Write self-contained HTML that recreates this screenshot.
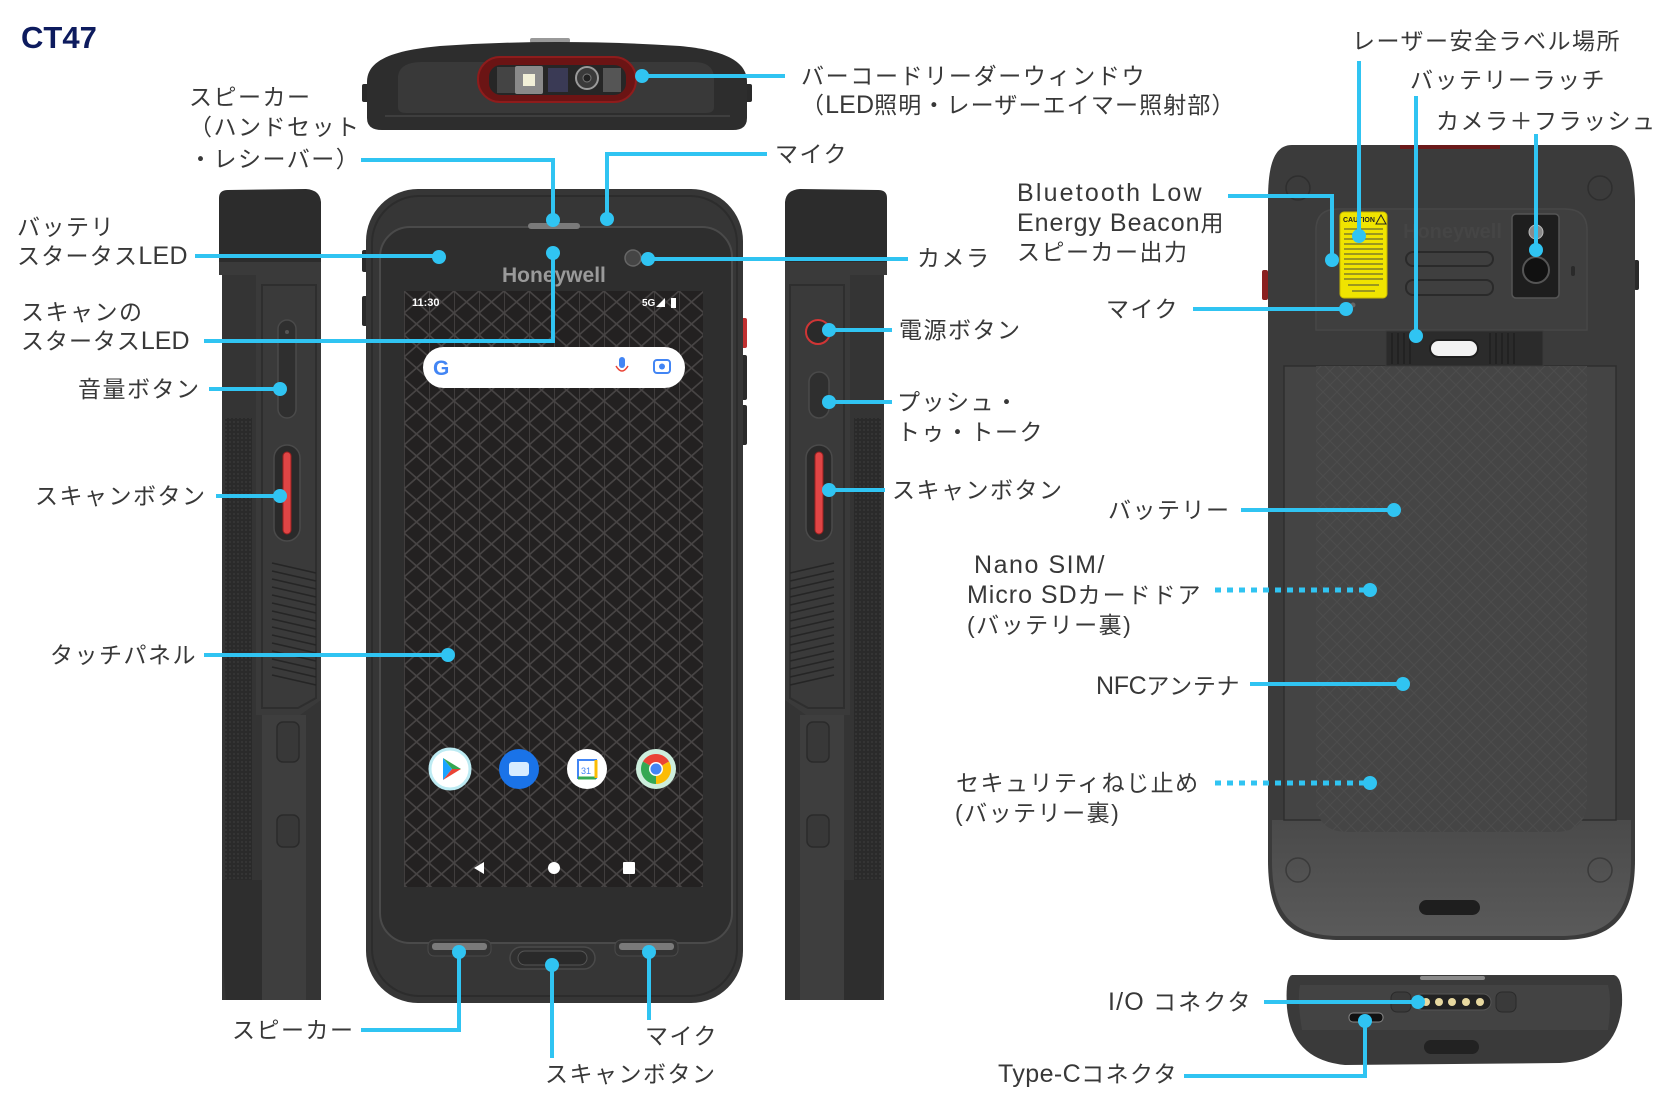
<!DOCTYPE html>
<html><head><meta charset="utf-8">
<style>
html,body{margin:0;padding:0;background:#fff;}
svg{display:block;}
text{font-family:"Liberation Sans","Noto Sans CJK JP",sans-serif;}
.t{font-size:23px;fill:#383838;letter-spacing:1.5px;dominant-baseline:central;}
.l{font-size:25px;letter-spacing:0.5px;}
</style></head><body>
<svg width="1667" height="1114" viewBox="0 0 1667 1114" xmlns="http://www.w3.org/2000/svg">
<defs>
<pattern id="tri" width="25" height="44" patternUnits="userSpaceOnUse" x="404" y="291">
<rect width="25" height="44" fill="#232121"/>
<path d="M0,0 L25,22 L0,44 M25,0 L0,22 L25,44 M0,0 V44" stroke="#474444" stroke-width="1.6" fill="none"/>
</pattern>
<pattern id="bat" width="14" height="14" patternUnits="userSpaceOnUse">
<rect width="14" height="14" fill="#454545"/>
<path d="M0,7 L7,0 L14,7 L7,14 Z" stroke="#4d4d4d" stroke-width="1" fill="none"/>
</pattern>
<pattern id="grip" width="4" height="4" patternUnits="userSpaceOnUse">
<rect width="4" height="4" fill="#2a2a2a"/>
<circle cx="2" cy="2" r="0.9" fill="#3a3a3a"/>
</pattern>
<linearGradient id="backlow" x1="0" y1="0" x2="0" y2="1">
<stop offset="0" stop-color="#4a4a4a"/><stop offset="1" stop-color="#5a5a5a"/>
</linearGradient>
<g id="side">
<rect x="222" y="268" width="99" height="732" fill="#343434"/>
<path d="M219,198 Q219,190 228,190 L306,189 Q320,190 321,202 V275 H219 Z" fill="#2c2c2c"/>
<rect x="219" y="262" width="102" height="13" fill="#3a3a3a"/>
<rect x="225" y="418" width="27" height="462" fill="url(#grip)"/>
<path d="M256,275 H321 V700 L300,715 H256 Z" fill="#3a3a3a"/>
<path d="M262,285 H316 V698 L298,708 H262 Z" fill="none" stroke="#2e2e2e" stroke-width="2"/>
<rect x="262" y="715" width="44" height="285" fill="#3e3e3e"/>
<rect x="277" y="722" width="22" height="40" rx="6" fill="#383838" stroke="#2a2a2a" stroke-width="1.5"/>
<rect x="277" y="815" width="22" height="32" rx="6" fill="#383838" stroke="#2a2a2a" stroke-width="1.5"/>
<path d="M222,880 H262 V1000 H226 Q222,960 222,900 Z" fill="#2e2e2e"/>
<g stroke="#252525" stroke-width="1.5">
<line x1="272" y1="563" x2="316" y2="573"/><line x1="272" y1="571" x2="316" y2="581"/>
<line x1="272" y1="579" x2="316" y2="589"/><line x1="272" y1="587" x2="316" y2="597"/>
<line x1="272" y1="595" x2="316" y2="605"/><line x1="272" y1="603" x2="316" y2="613"/>
<line x1="272" y1="611" x2="316" y2="621"/><line x1="272" y1="619" x2="316" y2="629"/>
<line x1="272" y1="627" x2="316" y2="637"/><line x1="272" y1="635" x2="316" y2="645"/>
<line x1="272" y1="643" x2="316" y2="653"/><line x1="272" y1="651" x2="316" y2="661"/>
<line x1="272" y1="659" x2="316" y2="669"/><line x1="272" y1="667" x2="316" y2="677"/>
<line x1="272" y1="675" x2="316" y2="685"/>
</g>
<rect x="274" y="445" width="26" height="96" rx="13" fill="#2a2a2a" stroke="#4a4a4a" stroke-width="1.5"/>
<rect x="283" y="452" width="8" height="82" rx="4" fill="#e04545" stroke="#9a2020" stroke-width="1"/>
</g>
</defs>

<!-- CT47 -->
<text x="21" y="48" font-size="31" font-weight="bold" fill="#0d1b5e" style="font-family:'Liberation Sans',sans-serif;">CT47</text>

<!-- TOP VIEW -->
<rect x="362" y="84" width="7" height="18" rx="2" fill="#2a2a2a"/>
<rect x="745" y="84" width="7" height="18" rx="2" fill="#2a2a2a"/>
<rect x="530" y="38" width="40" height="5" rx="2" fill="#999"/>
<path d="M367,82 C367,58 398,50 440,46 Q555,38 680,46 C722,50 747,60 747,82 V118 Q747,130 733,130 H382 Q367,130 367,118 Z" fill="#2d2d2d"/>
<path d="M398,76 Q400,62 422,62 H694 Q712,62 714,76 V107 Q714,113 706,113 H406 Q398,113 398,107 Z" fill="#393939"/>
<line x1="385" y1="116" x2="730" y2="116" stroke="#444" stroke-width="1.5"/>
<rect x="478" y="57" width="158" height="45" rx="22" fill="#6b1414" stroke="#8e1c1c" stroke-width="2"/>
<rect x="489" y="65" width="137" height="30" rx="12" fill="#262626"/>
<rect x="497" y="67" width="20" height="26" fill="#444"/>
<rect x="515" y="66" width="28" height="28" rx="2" fill="#8a8a8a"/>
<rect x="523" y="74" width="12" height="12" fill="#f2f0d8"/>
<rect x="548" y="68" width="20" height="24" fill="#3a3a55"/>
<circle cx="587" cy="78" r="11" fill="#3a3a3a" stroke="#9a9a9a" stroke-width="2"/>
<circle cx="587" cy="78" r="4" fill="#222" stroke="#777" stroke-width="1"/>
<rect x="603" y="68" width="18" height="24" fill="#555"/>

<!-- LEFT SIDE DEVICE -->
<use href="#side"/>
<rect x="278" y="320" width="18" height="98" rx="9" fill="#2f2f2f" stroke="#4a4a4a" stroke-width="1.5"/>
<circle cx="287" cy="332" r="2" fill="#555"/>

<!-- RIGHT SIDE DEVICE (mirrored) -->
<use href="#side" transform="matrix(-1,0,0,1,1106,0)"/>
<circle cx="818" cy="332" r="12" fill="#2a2a2a" stroke="#d03535" stroke-width="2"/>
<rect x="809" y="372" width="20" height="46" rx="10" fill="#2f2f2f" stroke="#4a4a4a" stroke-width="1.5"/>

<!-- FRONT DEVICE -->
<rect x="362" y="250" width="6" height="22" rx="2" fill="#2a2a2a"/>
<rect x="362" y="296" width="6" height="30" rx="2" fill="#2a2a2a"/>
<rect x="741" y="318" width="6" height="30" rx="2" fill="#c03030"/>
<rect x="741" y="355" width="6" height="45" rx="2" fill="#2a2a2a"/>
<rect x="741" y="405" width="6" height="40" rx="2" fill="#2a2a2a"/>
<rect x="366" y="189" width="377" height="814" rx="52" fill="#363636"/>
<rect x="372" y="196" width="365" height="800" rx="47" fill="none" stroke="#2c2c2c" stroke-width="2"/>
<rect x="380" y="227" width="352" height="716" rx="30" fill="#2e2e2e" stroke="#4a4a4a" stroke-width="2"/>
<rect x="528" y="223" width="52" height="6" rx="3" fill="#7a7a7a"/>
<circle cx="633" cy="258" r="8" fill="#454545" stroke="#666" stroke-width="1.5"/>
<text x="502" y="282" font-size="21" font-weight="bold" fill="#9a9a9a" style="font-family:'Liberation Sans',sans-serif;">Honeywell</text>
<rect x="404" y="291" width="299" height="596" fill="url(#tri)"/>
<text x="412" y="306" font-size="11" font-weight="bold" fill="#fff">11:30</text>
<text x="642" y="306" font-size="10" font-weight="bold" fill="#fff">5G</text>
<path d="M656,307 L665,307 L665,298 Z" fill="#fff"/>
<rect x="671" y="298" width="5" height="10" fill="#fff"/>
<rect x="423" y="347" width="262" height="41" rx="20.5" fill="#fff"/>
<text x="433" y="375" font-size="21" font-weight="bold" fill="#4285f4">G</text>
<rect x="619" y="357" width="6" height="11" rx="3" fill="#4285f4"/>
<path d="M616,366 Q622,376 628,366" stroke="#ea4335" stroke-width="1.5" fill="none"/>
<rect x="654" y="360" width="16" height="13" rx="3" fill="none" stroke="#4285f4" stroke-width="2"/>
<circle cx="662" cy="366.5" r="3" fill="#4285f4"/>
<!-- icons -->
<circle cx="450" cy="769" r="20" fill="#fff" stroke="#bdebf3" stroke-width="3"/>
<path d="M443,758 L452,769 L443,780Z" fill="#1aa3ff"/>
<path d="M443,758 L461,769 L452,769Z" fill="#34a853"/>
<path d="M452,769 L461,769 L443,780Z" fill="#ea4335"/>
<circle cx="519" cy="769" r="20" fill="#1a73e8"/>
<rect x="509" y="762" width="20" height="14" rx="3" fill="#d7ecff"/>
<circle cx="587" cy="769" r="20" fill="#fff"/>
<rect x="578" y="760" width="18" height="18" fill="#fff" stroke="#4285f4" stroke-width="2"/>
<line x1="578" y1="778" x2="596" y2="778" stroke="#34a853" stroke-width="3"/>
<line x1="596" y1="760" x2="596" y2="778" stroke="#fbbc04" stroke-width="3"/>
<text x="581" y="774" font-size="9" fill="#4285f4">31</text>
<circle cx="656" cy="769" r="20" fill="#cdeedd"/>
<path d="M656,769 L643,761.5 A15,15 0 0,1 669,761.5 Z" fill="#ea4335"/>
<path d="M656,769 L669,761.5 A15,15 0 0,1 656,784 Z" fill="#fbbc04"/>
<path d="M656,769 L656,784 A15,15 0 0,1 643,761.5 Z" fill="#34a853"/>
<circle cx="656" cy="769" r="7" fill="#fff"/>
<circle cx="656" cy="769" r="5.5" fill="#4285f4"/>
<!-- nav -->
<path d="M484,862 L474,868 L484,874 Z" fill="#fff"/>
<circle cx="554" cy="868" r="6" fill="#fff"/>
<rect x="623" y="862" width="12" height="12" rx="1" fill="#fff"/>
<!-- bottom -->
<rect x="428" y="940" width="63" height="16" rx="6" fill="#333" stroke="#4a4a4a" stroke-width="1"/>
<rect x="432" y="943" width="55" height="7" rx="3" fill="#7a7a7a"/>
<rect x="615" y="940" width="63" height="16" rx="6" fill="#333" stroke="#4a4a4a" stroke-width="1"/>
<rect x="619" y="943" width="55" height="7" rx="3" fill="#7a7a7a"/>
<rect x="510" y="947" width="85" height="22" rx="11" fill="#303030" stroke="#4a4a4a" stroke-width="1.5"/>
<rect x="518" y="951" width="69" height="14" rx="7" fill="#2a2a2a" stroke="#555" stroke-width="1"/>

<!-- BACK DEVICE -->
<rect x="1262" y="270" width="6" height="30" rx="2" fill="#8a2020"/>
<rect x="1634" y="260" width="5" height="30" rx="2" fill="#2a2a2a"/>
<path d="M1292,145 H1610 C1628,145 1634,165 1635,200 V860 C1635,920 1610,940 1560,940 H1340 C1290,940 1268,920 1268,860 V200 C1268,165 1274,145 1292,145 Z" fill="#3b3b3b"/>
<rect x="1400" y="145" width="100" height="4" fill="#6a1a1a"/>
<path d="M1316,230 Q1316,209 1338,209 H1565 Q1587,209 1587,230 V330 H1316 Z" fill="#3f3f3f" stroke="#474747" stroke-width="1.5"/>
<path d="M1272,820 H1631 V860 C1631,915 1608,936 1560,936 H1340 C1292,936 1272,915 1272,860 Z" fill="url(#backlow)"/>
<rect x="1284" y="366" width="332" height="454" fill="#444" stroke="#2e2e2e" stroke-width="1.5"/>
<path d="M1316,366 H1587 V800 Q1587,832 1555,832 H1348 Q1316,832 1316,800 Z" fill="url(#bat)"/>
<circle cx="1298" cy="188" r="12" fill="none" stroke="#2e2e2e" stroke-width="1.5"/>
<circle cx="1600" cy="188" r="12" fill="none" stroke="#2e2e2e" stroke-width="1.5"/>
<circle cx="1298" cy="870" r="12" fill="none" stroke="#3a3a3a" stroke-width="1.5"/>
<circle cx="1600" cy="870" r="12" fill="none" stroke="#3a3a3a" stroke-width="1.5"/>
<rect x="1419" y="900" width="61" height="15" rx="7.5" fill="#1e1e1e"/>
<rect x="1340" y="212" width="47" height="86" rx="4" fill="#f0e400" stroke="#c8b800" stroke-width="1"/>
<text x="1343" y="222" font-size="7" font-weight="bold" fill="#222">CAUTION</text>
<path d="M1376,224 L1381,215 L1386,224 Z" fill="none" stroke="#222" stroke-width="1"/>
<g stroke="#6a6a30" stroke-width="1.2">
<line x1="1344" y1="229" x2="1383" y2="229"/><line x1="1344" y1="234" x2="1383" y2="234"/>
<line x1="1344" y1="239" x2="1383" y2="239"/><line x1="1344" y1="244" x2="1383" y2="244"/>
<line x1="1344" y1="249" x2="1383" y2="249"/><line x1="1344" y1="254" x2="1383" y2="254"/>
<line x1="1344" y1="259" x2="1383" y2="259"/><line x1="1344" y1="264" x2="1383" y2="264"/>
<line x1="1344" y1="269" x2="1383" y2="269"/><line x1="1344" y1="274" x2="1383" y2="274"/>
<line x1="1344" y1="279" x2="1383" y2="279"/><line x1="1348" y1="285" x2="1379" y2="285"/>
<line x1="1352" y1="291" x2="1375" y2="291"/>
</g>
<text x="1403" y="238" font-size="20" font-weight="bold" fill="#454545" style="font-family:'Liberation Sans',sans-serif;">Honeywell</text>
<rect x="1406" y="252" width="87" height="14" rx="7" fill="none" stroke="#2a2a2a" stroke-width="2"/>
<rect x="1406" y="280" width="87" height="15" rx="7" fill="none" stroke="#2a2a2a" stroke-width="2"/>
<rect x="1512" y="214" width="47" height="84" rx="4" fill="#1e1e1e" stroke="#555" stroke-width="1.5"/>
<circle cx="1536" cy="232" r="7" fill="#8a8a8a" stroke="#bbb" stroke-width="1"/>
<circle cx="1536" cy="270" r="13" fill="#111" stroke="#555" stroke-width="2"/>
<rect x="1571" y="266" width="4" height="10" rx="2" fill="#2a2a2a"/>
<circle cx="1353" cy="305" r="2.5" fill="#666"/>
<rect x="1386" y="331" width="157" height="35" fill="#2b2b2b" stroke="#3a3a3a" stroke-width="1"/>
<g stroke="#222" stroke-width="2">
<line x1="1392" y1="333" x2="1392" y2="364"/><line x1="1398" y1="333" x2="1398" y2="364"/>
<line x1="1404" y1="333" x2="1404" y2="364"/><line x1="1410" y1="333" x2="1410" y2="364"/>
<line x1="1490" y1="333" x2="1490" y2="364"/><line x1="1496" y1="333" x2="1496" y2="364"/>
<line x1="1502" y1="333" x2="1502" y2="364"/><line x1="1508" y1="333" x2="1508" y2="364"/>
<line x1="1514" y1="333" x2="1514" y2="364"/>
</g>
<rect x="1430" y="340" width="48" height="17" rx="8.5" fill="#f2f2f2" stroke="#1e1e1e" stroke-width="2"/>

<!-- BOTTOM VIEW -->
<path d="M1292,975 H1614 Q1623,977 1622,1005 Q1617,1060 1560,1063 L1345,1065 Q1292,1060 1287,1008 Q1285,977 1292,975 Z" fill="#3a3a3a"/>
<path d="M1300,985 H1608 Q1612,1000 1608,1030 H1302 Q1297,1000 1300,985 Z" fill="#434343"/>
<rect x="1420" y="976" width="65" height="4" rx="2" fill="#8a8a8a"/>
<rect x="1391" y="992" width="20" height="20" rx="6" fill="#3a3a3a" stroke="#2a2a2a" stroke-width="1"/>
<rect x="1496" y="992" width="20" height="20" rx="6" fill="#3a3a3a" stroke="#2a2a2a" stroke-width="1"/>
<rect x="1414" y="994" width="77" height="16" rx="8" fill="#222" stroke="#555" stroke-width="1"/>
<circle cx="1426" cy="1002" r="4" fill="#e8d9a0"/><circle cx="1439" cy="1002" r="4" fill="#e8d9a0"/>
<circle cx="1452" cy="1002" r="4" fill="#e8d9a0"/><circle cx="1466" cy="1002" r="4" fill="#e8d9a0"/>
<circle cx="1480" cy="1002" r="4" fill="#e8d9a0"/>
<rect x="1349" y="1013" width="34" height="9" rx="4" fill="#111" stroke="#888" stroke-width="1"/>
<rect x="1424" y="1040" width="55" height="14" rx="7" fill="#222"/>

<!-- CONNECTORS -->
<g stroke="#30c4f2" stroke-width="4" fill="none">
<path d="M361,160 H553 V220"/>
<path d="M785,76 H642"/>
<path d="M767,154 H607 V219"/>
<path d="M195,256 H439"/>
<path d="M204,341 H553 V253"/>
<path d="M209,389 H280"/>
<path d="M216,496 H280"/>
<path d="M204,655 H448"/>
<path d="M361,1030 H459 V952"/>
<path d="M552,1058 V965"/>
<path d="M649,1020 V952"/>
<path d="M908,259 H648"/>
<path d="M892,330 H829"/>
<path d="M892,402 H829"/>
<path d="M885,490 H829"/>
<path d="M1228,196 H1332 V260"/>
<path d="M1193,309 H1346"/>
<path d="M1359,61 V236"/>
<path d="M1416,96 V336"/>
<path d="M1536,134 V250"/>
<path d="M1241,510 H1394"/>
<path d="M1250,684 H1403"/>
<path d="M1264,1002 H1418"/>
<path d="M1184,1076 H1365 V1021"/>
<path d="M1215,590 H1364" stroke-dasharray="6 6" stroke-width="5"/>
<path d="M1215,783 H1364" stroke-dasharray="6 6" stroke-width="5"/>
</g>
<g fill="#30c4f2">
<circle cx="553" cy="220" r="7"/><circle cx="642" cy="76" r="7"/><circle cx="607" cy="219" r="7"/>
<circle cx="439" cy="257" r="7"/><circle cx="553" cy="253" r="7"/><circle cx="280" cy="389" r="7"/>
<circle cx="280" cy="496" r="7"/><circle cx="448" cy="655" r="7"/><circle cx="459" cy="952" r="7"/>
<circle cx="552" cy="965" r="7"/><circle cx="649" cy="952" r="7"/><circle cx="648" cy="259" r="7"/>
<circle cx="829" cy="330" r="7"/><circle cx="829" cy="402" r="7"/><circle cx="829" cy="490" r="7"/>
<circle cx="1332" cy="260" r="7"/><circle cx="1346" cy="309" r="7"/><circle cx="1359" cy="236" r="7"/>
<circle cx="1416" cy="336" r="7"/><circle cx="1536" cy="250" r="7"/><circle cx="1394" cy="510" r="7"/>
<circle cx="1370" cy="590" r="7"/><circle cx="1403" cy="684" r="7"/><circle cx="1370" cy="783" r="7"/>
<circle cx="1418" cy="1002" r="7"/><circle cx="1365" cy="1021" r="7"/>
</g>

<!-- LABELS -->
<text class="t" x="189" y="97">スピーカー</text>
<text class="t" x="189" y="127">（ハンドセット</text>
<text class="t" x="189" y="159">・レシーバー）</text>
<text class="t" x="801" y="76" textLength="345">バーコードリーダーウィンドウ</text>
<text class="t" x="801" y="105" textLength="435">（<tspan class="l">LED</tspan>照明・レーザーエイマー照射部）</text>
<text class="t" x="775" y="154">マイク</text>
<text class="t" x="17" y="227">バッテリ</text>
<text class="t" x="17" y="256" textLength="171">スタータス<tspan class="l">LED</tspan></text>
<text class="t" x="21" y="312">スキャンの</text>
<text class="t" x="21" y="341" textLength="169">スタータス<tspan class="l">LED</tspan></text>
<text class="t" x="78" y="389">音量ボタン</text>
<text class="t" x="35" y="496">スキャンボタン</text>
<text class="t" x="50" y="655">タッチパネル</text>
<text class="t" x="232" y="1030">スピーカー</text>
<text class="t" x="545" y="1074">スキャンボタン</text>
<text class="t" x="645" y="1036">マイク</text>
<text class="t" x="917" y="258">カメラ</text>
<text class="t" x="899" y="330">電源ボタン</text>
<text class="t" x="897" y="402">プッシュ・</text>
<text class="t" x="897" y="432">トゥ・トーク</text>
<text class="t" x="892" y="490">スキャンボタン</text>
<text class="t l" x="1017" y="193" textLength="185">Bluetooth Low</text>
<text class="t" x="1017" y="223" textLength="208"><tspan class="l">Energy Beacon</tspan>用</text>
<text class="t" x="1017" y="252">スピーカー出力</text>
<text class="t" x="1106" y="309">マイク</text>
<text class="t" x="1352" y="41">レーザー安全ラベル場所</text>
<text class="t" x="1410" y="80">バッテリーラッチ</text>
<text class="t" x="1436" y="121">カメラ＋フラッシュ</text>
<text class="t" x="1108" y="510">バッテリー</text>
<text class="t l" x="974" y="565" textLength="131">Nano SIM/</text>
<text class="t" x="967" y="595" textLength="235"><tspan class="l">Micro SD</tspan>カードドア</text>
<text class="t" x="967" y="625">(バッテリー裏)</text>
<text class="t" x="1096" y="686" textLength="145"><tspan class="l">NFC</tspan>アンテナ</text>
<text class="t" x="956" y="783">セキュリティねじ止め</text>
<text class="t" x="955" y="813">(バッテリー裏)</text>
<text class="t" x="1108" y="1002" textLength="144"><tspan class="l">I/O </tspan>コネクタ</text>
<text class="t" x="998" y="1074" textLength="180"><tspan class="l">Type-C</tspan>コネクタ</text>
</svg>
</body></html>
